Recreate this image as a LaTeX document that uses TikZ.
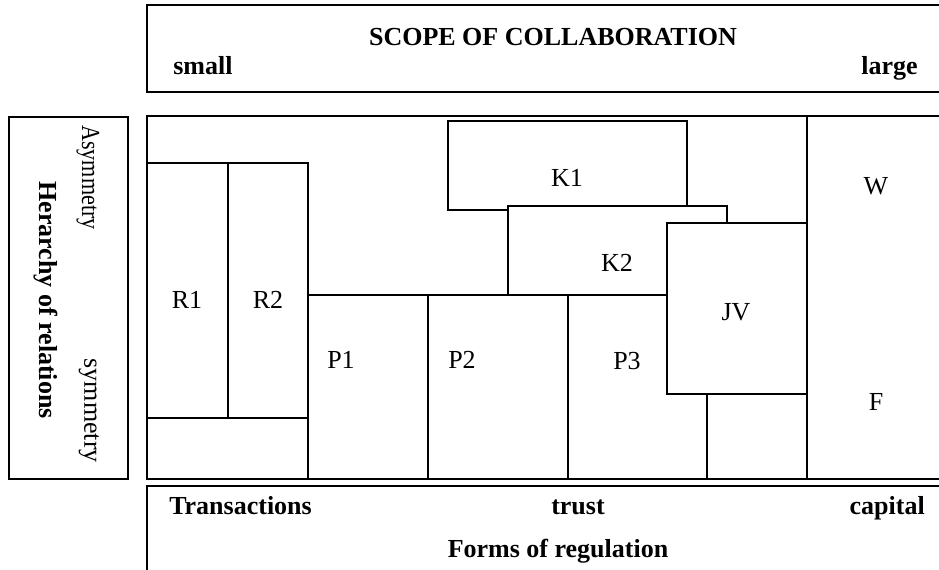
\documentclass[tikz,border=0pt]{standalone}
\usepackage{fontspec}
\setmainfont{Liberation Serif}
\begin{document}
\begin{tikzpicture}[x=0.75pt,y=-0.75pt,
  frame/.style={draw=black,line width=1.2pt},
  cell/.style={draw=black,line width=1.2pt,fill=white},
  lab/.style={font=\fontsize{19.5}{23}\selectfont,inner sep=0pt},
  blab/.style={font=\fontsize{19.5}{23}\selectfont\bfseries,inner sep=0pt}]
\clip (0,0) rectangle (939,570);
\fill[white] (0,0) rectangle (939,570);
% outer boxes
\draw[frame] (147,5) rectangle (960,92);
\draw[frame] (9,117) rectangle (128,479);
\draw[frame] (147,116) rectangle (960,479);
\draw[frame] (807,116) -- (807,479);
\draw[frame] (147,486) rectangle (960,600);
% R cells
\draw[cell] (147,163) rectangle (228,418);
\draw[cell] (228,163) rectangle (308,418);
\draw[cell] (147,418) rectangle (308,479);
% P cells
\draw[cell] (308,295) rectangle (428,479);
\draw[cell] (428,295) rectangle (568,479);
\draw[cell] (568,295) rectangle (707,479);
\draw[cell] (707,394) rectangle (807,479);
% K and JV
\draw[cell] (448,121) rectangle (687,210);
\draw[cell] (508,206) rectangle (727,295);
\draw[cell] (667,223) rectangle (807,394);
% cell labels
\node[lab] (r1) at (187,300) {R1};
\node[lab] (r2) at (268,300) {R2};
\node[lab] (p1) at (341,360) {P1};
\node[lab] (p2) at (462,360) {P2};
\node[lab] (p3) at (627,361) {P3};
\node[lab] (k1) at (567,178) {K1};
\node[lab] (k2) at (617,263) {K2};
\node[lab] (jv) at (736,312) {JV};
\node[lab] (w) at (876,186) {W};
\node[lab] (f) at (876,402) {F};
% top box texts
\node[blab,anchor=base] (title) at (553,46) {SCOPE OF COLLABORATION};
\node[blab,anchor=base west] (small) at (173,75) {small};
\node[blab,anchor=base east] (large) at (918,75) {large};
% bottom box texts
\node[blab,anchor=base west] (trans) at (169,514) {Transactions};
\node[blab,anchor=base] (trust) at (578,514) {trust};
\node[blab,anchor=base east] (capital) at (925,514) {capital};
\node[blab,anchor=base] (forms) at (558,557) {Forms of regulation};
% left box texts
\node[lab,rotate=-90,anchor=west] (asym) at (88,125) {\scalebox{0.85}[1]{Asymmetry}};
\node[lab,rotate=-90,anchor=east] (sym) at (89,463) {symmetry};
\node[blab,rotate=-90] (herarchy) at (46,300) {Herarchy of relations};
\end{tikzpicture}
\end{document}
